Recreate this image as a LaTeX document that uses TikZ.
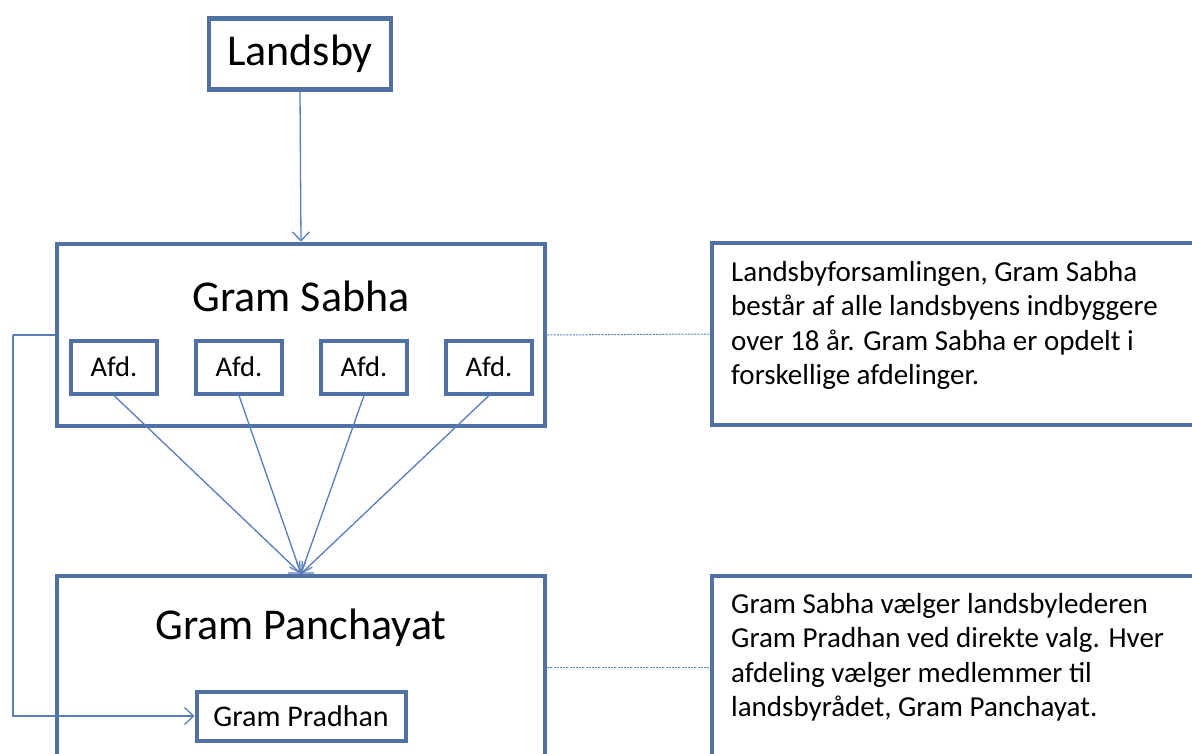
\documentclass[tikz,border=0pt]{standalone}
\usepackage{fontspec}
\setmainfont{Carlito}
\usetikzlibrary{arrows.meta}
\definecolor{bord}{RGB}{79,113,165}
\definecolor{conn}{RGB}{88,126,186}
\begin{document}
\begin{tikzpicture}[x=1pt,y=-1pt,
  bigbox/.style={draw=bord, line width=4.5pt, fill=white, inner sep=0pt},
  smallbox/.style={draw=bord, line width=4pt, fill=white, inner sep=0pt, font=\fontsize{28.5}{32}\selectfont},
  title/.style={inner sep=0pt, font=\fontsize{44}{50}\selectfont},
  conline/.style={draw=conn, line width=1.3pt},
  arr/.style={conline, -{Straight Barb[length=9pt,width=17pt,line width=1.3pt]}},
  dashline/.style={draw=conn, line width=1pt, dash pattern=on 2pt off 1.2pt},
  para/.style={inner sep=0pt, anchor=north west, align=left, font=\fontsize{29}{34.5}\selectfont}
]
\clip (0,0) rectangle (1192,754);
\fill[white] (0,0) rectangle (1192,754);

% Landsby
\node[bigbox, minimum width=182pt, minimum height=71pt, title] (lb) at (300,54) {Landsby};

% Gram Sabha
\node[bigbox, minimum width=488pt, minimum height=182pt] (gs) at (301,335) {};
\node[title] (gst) at (301,296) {Gram Sabha};
\node[smallbox, minimum width=86pt, minimum height=53pt] (a1) at (114,367) {Afd.};
\node[smallbox, minimum width=86pt, minimum height=53pt] (a2) at (239,367) {Afd.};
\node[smallbox, minimum width=86pt, minimum height=53pt] (a3) at (364,367) {Afd.};
\node[smallbox, minimum width=86pt, minimum height=53pt] (a4) at (489,367) {Afd.};

% Gram Panchayat
\node[bigbox, minimum width=488pt, minimum height=182pt] (gp) at (301,667) {};
\node[title] (gpt) at (301,628) {Gram Panchayat};
\node[smallbox, minimum width=209pt, minimum height=49pt, font=\fontsize{30}{34}\selectfont] (gpr) at (301,716) {Gram Pradhan};

% Text boxes
\node[bigbox, minimum width=500pt, minimum height=182pt] (t1) at (962,334) {};
\node[para] (t1t) at (731,261) {Landsbyforsamlingen, Gram Sabha\\består af alle landsbyens indbyggere\\over 18 år. Gram Sabha er opdelt i\\forskellige afdelinger.};
\node[bigbox, minimum width=500pt, minimum height=182pt] (t2) at (962,667) {};
\node[para] (t2t) at (731,593) {Gram Sabha vælger landsbylederen\\Gram Pradhan ved direkte valg. Hver\\afdeling vælger medlemmer til\\landsbyrådet, Gram Panchayat.};

% Connectors
\draw[arr] (lb.south) -- (gs.north);
\draw[arr] (a1.south) -- (gp.north);
\draw[arr] (a2.south) -- (gp.north);
\draw[arr] (a3.south) -- (gp.north);
\draw[arr] (a4.south) -- (gp.north);
\coordinate (lc) at (13,335);
\draw[conline] (gs.west) -- (lc);
\draw[arr] (lc) |- (gpr.west);
\draw[dashline] (gs.east) -- (t1.west);
\draw[dashline] (gp.east) -- (t2.west);
\end{tikzpicture}
\end{document}
